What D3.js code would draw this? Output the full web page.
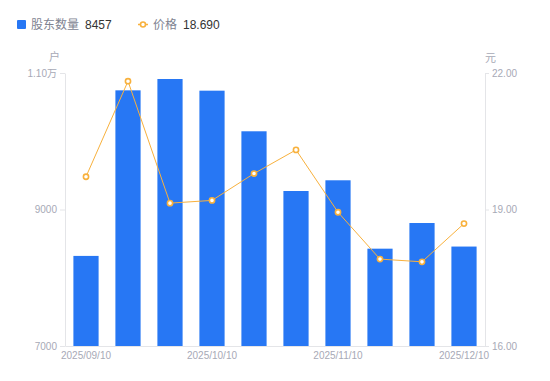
<!DOCTYPE html>
<html>
<head>
<meta charset="UTF-8">
<title>股东数量</title>
<script src="https://d3js.org/d3.v7.min.js"></script>
<style>
  body { margin: 0; background: #fff; }
  text { font-family: "Liberation Sans", Arial, "Noto Sans CJK SC", sans-serif; }
</style>
</head>
<body>
<svg width="550" height="381"></svg>
<script>
var dates = ["2025/09/10", "2025/09/20", "2025/09/30", "2025/10/10", "2025/10/20",
             "2025/10/31", "2025/11/10", "2025/11/20", "2025/11/30", "2025/12/10"];
var holders = [8320, 10746, 10912, 10741, 10146, 9271, 9428, 8426, 8802, 8457];
var prices = [19.72, 21.82, 19.14, 19.20, 19.79, 20.31, 18.94, 17.91, 17.85, 18.69];
var leftTicks = [7000, 9000, 11000];
var rightTicks = [16, 19, 22];
var xLabelIdx = [0, 3, 6, 9];

var blue = "#2777f4", orange = "#f8b13d", axisColor = "#e4e5e8", labelColor = "#a7a9b6";

var svg = d3.select("svg");
var plotL = 65, plotR = 485, plotT = 73, plotB = 346;

var x = d3.scaleBand().domain(dates).range([plotL, plotR]).paddingInner(0.4).paddingOuter(0.2);
var yL = d3.scaleLinear().domain([7000, 11000]).range([plotB, plotT]);
var yR = d3.scaleLinear().domain([16, 22]).range([plotB, plotT]);

// bars
svg.append("g").selectAll("rect")
    .data(holders)
    .enter()
    .append("rect")
    .attr("x", function(d, i) { return x(dates[i]); })
    .attr("y", function(d) { return yL(d); })
    .attr("width", x.bandwidth())
    .attr("height", function(d) { return plotB - yL(d); })
    .attr("fill", blue);

// axes
function styleAxis(g) {
    g.selectAll(".domain").attr("stroke", axisColor);
    g.selectAll(".tick line").attr("stroke", axisColor);
    g.selectAll(".tick text").attr("fill", labelColor).style("font-size", "10px");
}

svg.append("g")
    .attr("transform", "translate(" + plotL + ",0)")
    .call(d3.axisLeft(yL).tickValues(leftTicks).tickSize(5).tickSizeOuter(0).tickPadding(3)
        .tickFormat(function(d) { return d >= 10000 ? (d / 10000).toFixed(2) + "万" : d; }))
    .call(styleAxis);

svg.append("g")
    .attr("transform", "translate(" + plotR + ",0)")
    .call(d3.axisRight(yR).tickValues(rightTicks).tickSize(4).tickSizeOuter(0).tickPadding(3)
        .tickFormat(d3.format(".2f")))
    .call(styleAxis);

svg.append("g")
    .attr("transform", "translate(0," + plotB + ")")
    .call(d3.axisBottom(x).tickValues(xLabelIdx.map(function(i) { return dates[i]; }))
        .tickSize(0).tickSizeOuter(0).tickPadding(6))
    .call(styleAxis);

svg.append("text").attr("x", 60).attr("y", 61).attr("text-anchor", "end")
    .attr("fill", labelColor).style("font-size", "11px").text("户");
svg.append("text").attr("x", 485).attr("y", 62)
    .attr("fill", labelColor).style("font-size", "11px").text("元");

// price line
var line = d3.line()
    .x(function(d, i) { return x(dates[i]) + x.bandwidth() / 2; })
    .y(function(d) { return yR(d); });

svg.append("path")
    .datum(prices)
    .attr("d", line)
    .attr("fill", "none")
    .attr("stroke", orange)
    .attr("stroke-width", 1);

svg.append("g").selectAll("circle")
    .data(prices)
    .enter()
    .append("circle")
    .attr("cx", function(d, i) { return x(dates[i]) + x.bandwidth() / 2; })
    .attr("cy", function(d) { return yR(d); })
    .attr("r", 2.6)
    .attr("fill", "#fff")
    .attr("stroke", orange)
    .attr("stroke-width", 1.6);

// legend
var lg = svg.append("g");
lg.append("rect").attr("x", 17).attr("y", 20).attr("width", 9).attr("height", 9)
    .attr("rx", 1).attr("fill", blue);
lg.append("text").attr("x", 31).attr("y", 29).attr("fill", "#808391")
    .style("font-size", "12px").text("股东数量");
lg.append("text").attr("x", 85).attr("y", 29).attr("fill", "#333")
    .style("font-size", "12px").text(holders[holders.length - 1]);

lg.append("line").attr("x1", 138).attr("x2", 148).attr("y1", 24.5).attr("y2", 24.5)
    .attr("stroke", orange).attr("stroke-width", 1.5);
lg.append("circle").attr("cx", 143).attr("cy", 24.5).attr("r", 2.5)
    .attr("fill", "#fff").attr("stroke", orange).attr("stroke-width", 1.6);
lg.append("text").attr("x", 153).attr("y", 29).attr("fill", "#808391")
    .style("font-size", "12px").text("价格");
lg.append("text").attr("x", 183).attr("y", 29).attr("fill", "#333")
    .style("font-size", "12px").text(prices[prices.length - 1].toFixed(3));
</script>
</body>
</html>
